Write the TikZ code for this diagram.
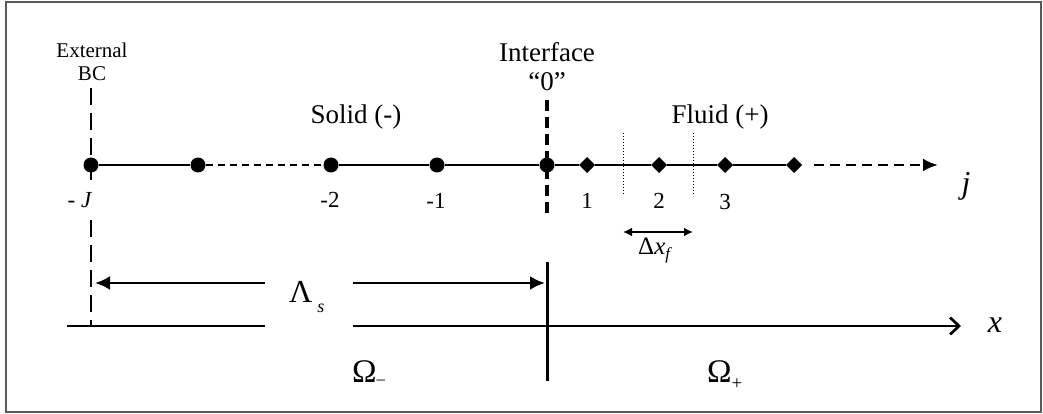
\documentclass[tikz,border=0pt]{standalone}
\usepackage{fontspec}
\setmainfont{Liberation Serif}
\usetikzlibrary{arrows.meta,shapes.geometric}
\newcommand{\fsz}[1]{\fontsize{#1}{#1}\selectfont}
\begin{document}
\begin{tikzpicture}[x=1pt,y=-1pt,
  dot/.style={circle,fill=black,inner sep=0pt,minimum size=15pt},
  dia/.style={regular polygon,regular polygon sides=4,regular polygon rotate=45,fill=black,inner sep=0pt,minimum size=16pt},
  mainline/.style={line width=2.9pt},
  bcdash/.style={line width=2.7pt,dash pattern=on 17pt off 8pt},
  ifdash/.style={line width=3.8pt,dash pattern=on 11pt off 6pt},
  celldot/.style={line width=1pt,dotted},
  lbl/.style={inner sep=0pt},
  big/.style={lbl,font=\fsz{27}},
  small/.style={lbl,font=\fsz{21}},
  num/.style={lbl,font=\fsz{23}},
  fill tip/.style={-{Latex[length=15pt,width=14pt]}},
]
\useasboundingbox (0,0) rectangle (1043,414);
\draw[line width=2.2pt,color=black!65] (6,2) rectangle (1041,412);

% grid points
\node[dot] (mJ) at (91,165) {};
\node[dot] (a) at (198,165) {};
\node[dot] (m2) at (331,165) {};
\node[dot] (m1) at (437,165) {};
\node[dot] (i0) at (547,165) {};
\node[dia] (p1) at (587,165) {};
\node[dia] (p2) at (659,165) {};
\node[dia] (p3) at (725,165) {};
\node[dia] (p4) at (794,165) {};
\coordinate (jend) at (938,165);

\draw[mainline] (mJ) -- (a);
\draw[mainline,dash pattern=on 7pt off 5pt] (a) -- (m2);
\draw[mainline] (m2) -- (m1) -- (i0) -- (p1) -- (p2) -- (p3) -- (p4);
\draw[mainline,dash pattern=on 10pt off 6pt,shorten <=12pt,-{Latex[length=15pt,width=13pt]}] (p4) -- (jend);

% vertical markers
\coordinate (bcA) at (91,88);
\coordinate (bcB) at (91,186);
\coordinate (bcC) at (91,220);
\coordinate (bcD) at (91,325);
\draw[bcdash] (bcA) -- (bcB);
\draw[bcdash] (bcC) -- (bcD);
\coordinate (ifA) at (547,100);
\coordinate (ifB) at (547,215);
\draw[ifdash] (ifA) -- (ifB);
\coordinate (ivA) at (547,262);
\coordinate (ivB) at (547,381);
\draw[line width=3pt] (ivA) -- (ivB);
\coordinate (d1a) at (623,133);
\coordinate (d1b) at (623,194);
\coordinate (d2a) at (693,133);
\coordinate (d2b) at (693,196);
\draw[celldot] (d1a) -- (d1b);
\draw[celldot] (d2a) -- (d2b);

% labels top
\node[small] (ext) at (92,50) {External};
\node[small] (bc) at (92,74) {BC};
\node[big] (intf) at (547,52) {Interface};
\node[big] (zero) at (547,82) {“0”};
\node[big] (solid) at (356,117) {Solid (-)};
\node[big] (fluid) at (720,117) {Fluid (+)};

% index labels
\node[num] (lJ) at (80,200) {- \textit{J}};
\node[num] (l2m) at (330,200) {-2};
\node[num] (l1m) at (436,201) {-1};
\node[num] (l1) at (587,201) {1};
\node[num] (l2) at (659,201) {2};
\node[num] (l3) at (725,202) {3};
\node[lbl,font=\fsz{32}] (jl) at (966,186) {\textit{j}};

% delta x
\coordinate (dxa) at (623,232);
\coordinate (dxb) at (693,232);
\draw[line width=2.6pt,{Latex[length=9pt,width=9pt]}-{Latex[length=9pt,width=9pt]}] (dxa) -- (dxb);
\node[lbl,anchor=base west,font=\fsz{25}] (dxl) at (638,254) {Δ\textit{x}\raisebox{-5pt}{\fsz{17}\textit{f}}};

% Lambda_s arrows
\coordinate (lamL0) at (265,283);
\coordinate (lamL1) at (95,283);
\coordinate (lamR0) at (353,283);
\coordinate (lamR1) at (545,283);
\draw[line width=2.7pt,fill tip] (lamL0) -- (lamL1);
\draw[line width=2.7pt,fill tip] (lamR0) -- (lamR1);
\node[lbl,anchor=base west,font=\fsz{32}] (lam) at (289,302) {Λ\hspace{5pt}\raisebox{-10pt}{\fsz{18}\textit{s}}};

% x axis
\coordinate (xa0) at (67,326);
\coordinate (xa1) at (265,326);
\coordinate (xb0) at (353,326);
\coordinate (xb1) at (961,326);
\draw[line width=2.7pt] (xa0) -- (xa1);
\draw[line width=2.7pt,-{Straight Barb[length=9pt,width=17pt]}] (xb0) -- (xb1);
\node[lbl,font=\fsz{32}] (xl) at (995,325) {\textit{x}};

% Omegas
\node[lbl,anchor=base west,font=\fsz{33}] (om) at (352,382) {Ω\raisebox{-2pt}{\fsz{17}–}};
\node[lbl,anchor=base west,font=\fsz{33}] (op) at (707,382) {Ω\raisebox{-7pt}{\fsz{19}+}};
\end{tikzpicture}
\end{document}
